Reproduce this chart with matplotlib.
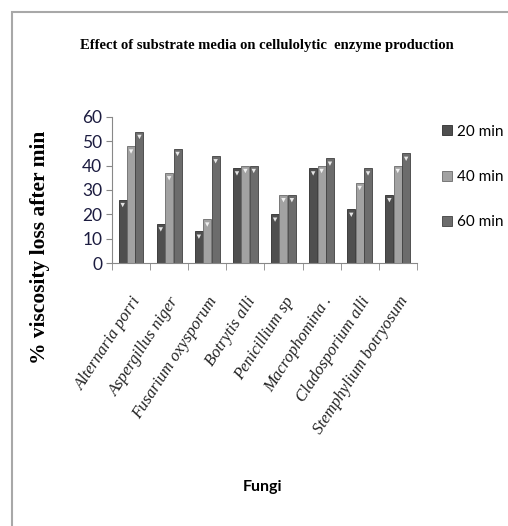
import numpy as np
import matplotlib
matplotlib.use("Agg")
import matplotlib.pyplot as plt
from matplotlib.patches import Rectangle

fungi = ["Alternaria porri", "Aspergillus niger", "Fusarium oxysporum", "Botrytis alli",
         "Penicillium sp", "Macrophomina .", "Cladosporium alli", "Stemphylium botryosum"]
min20 = [26, 16, 13, 39, 20, 39, 22, 28]
min40 = [48, 37, 18, 40, 28, 40, 33, 40]
min60 = [54, 47, 44, 40, 28, 43, 39, 45]
series = ["20 min", "40 min", "60 min"]
colors = ["#4f4f4f", "#a2a2a2", "#6c6c6c"]
edges = ["#2e2e2e", "#6a6a6a", "#404040"]

fig = plt.figure(figsize=(5.08, 5.26), dpi=100)
ax = fig.add_axes([0.2205, 0.5, 0.600, 0.2776])

# outer frame like the word-processor chart box
fig.patches.append(Rectangle((12 / 508, -0.1), 1.2, 1.1 - 12 / 526, transform=fig.transFigure,
                             fill=False, edgecolor="#a8a8a8", linewidth=1.5))

x = np.arange(len(fungi))
w = 0.22
for i, vals in enumerate([min20, min40, min60]):
    pos = x + (i - 1) * w
    ax.bar(pos, vals, width=w * 0.95, color=colors[i], edgecolor=edges[i], linewidth=0.6,
           label=series[i], zorder=2)
    ax.scatter(pos, np.array(vals) - 2.2, marker="v", s=10, color="white", edgecolor="none",
               alpha=0.85, zorder=3)

ax.set_xlim(-0.5, len(fungi) - 0.5)
ax.set_ylim(0, 60)
ax.set_yticks(range(0, 61, 10))
for s in ["top", "right"]:
    ax.spines[s].set_visible(False)
for s in ["left", "bottom"]:
    ax.spines[s].set_color("#888888")
ax.tick_params(axis="y", length=4, color="#888888", labelsize=12.5, labelcolor="#1c1c40", pad=3)
for lab in ax.get_yticklabels():
    lab.set_family("Lato")

ax.set_xticks(x)
ax.set_xticks(np.arange(-0.5, len(fungi)), minor=True)
ax.tick_params(axis="x", which="major", length=0, pad=22)
ax.tick_params(axis="x", which="minor", length=5, color="#888888")
ax.set_xticklabels(fungi, rotation=57, ha="right", rotation_mode="anchor",
                   family="Liberation Serif", style="italic", fontsize=12, color="#222222")

ax.set_ylabel("% viscosity loss after min", family="Liberation Serif", fontweight="bold",
              fontsize=15.5)
ax.yaxis.set_label_coords(-0.205, 0.11)

fig.text(267 / 508, 1 - 46 / 526, "Effect of substrate media on cellulolytic  enzyme production",
         ha="center", va="center", family="Liberation Serif", fontweight="bold", fontsize=10.5)
fig.text(263 / 508, 1 - 487 / 526, "Fungi", ha="center", va="center", family="Lato",
         fontweight="bold", fontsize=11.5)

leg = ax.legend(loc="upper left", bbox_to_anchor=(428 / 508, 1 - 111 / 526),
                bbox_transform=fig.transFigure, frameon=False, handlelength=0.65,
                handleheight=0.65, handletextpad=0.35, labelspacing=2.05,
                prop={"family": "Lato", "size": 11})

fig.savefig("out.png", dpi=100)
